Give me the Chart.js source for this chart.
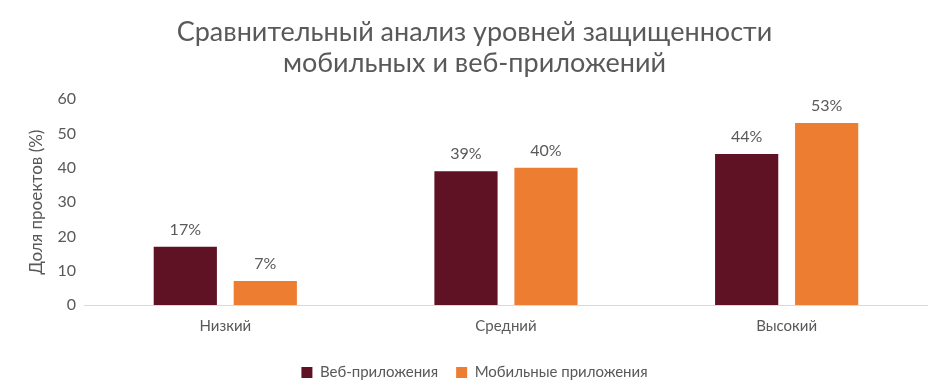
<!DOCTYPE html>
<html>
<head>
<meta charset="utf-8">
<script src="https://cdn.jsdelivr.net/npm/chart.js@4/dist/chart.umd.min.js"></script>
<style>
  html, body { margin: 0; padding: 0; background: #fff; }
  #wrap { width: 941px; height: 392px; position: relative; }
</style>
</head>
<body>
<div id="wrap"><canvas id="chart"></canvas></div>
<script>
const categories = ["Низкий", "Средний", "Высокий"];
const webValues = [17, 39, 44];
const mobileValues = [7, 40, 53];
const seriesNames = ["Веб-приложения", "Мобильные приложения"];
const titleLines = ["Сравнительный анализ уровней защищенности", "мобильных и веб-приложений"];

const FONT = "Lato, 'Open Sans', sans-serif";
const GRAY = "#595959";

// draws "NN%" above each bar
const barLabels = {
  id: "barLabels",
  afterDatasetsDraw(chart) {
    const ctx = chart.ctx;
    ctx.save();
    ctx.font = "16px " + FONT;
    ctx.fillStyle = GRAY;
    ctx.textAlign = "center";
    ctx.textBaseline = "bottom";
    chart.data.datasets.forEach((ds, i) => {
      chart.getDatasetMeta(i).data.forEach((bar, j) => {
        ctx.fillText(ds.data[j] + "%", bar.x, bar.y - 9);
      });
    });
    ctx.restore();
  },
};

new Chart(document.getElementById("chart"), {
  type: "bar",
  data: {
    labels: categories,
    datasets: [
      {
        label: seriesNames[0],
        data: webValues,
        backgroundColor: "#5E1224",
        categoryPercentage: 0.57,
        barPercentage: 0.79,
      },
      {
        label: seriesNames[1],
        data: mobileValues,
        backgroundColor: "#ED7D31",
        categoryPercentage: 0.57,
        barPercentage: 0.79,
      },
    ],
  },
  options: {
    responsive: true,
    maintainAspectRatio: false,
    animation: false,
    layout: { padding: { left: 22, right: 14, top: 11, bottom: 2 } },
    plugins: {
      title: {
        display: true,
        text: titleLines,
        color: GRAY,
        font: { family: FONT, size: 27, weight: "normal", lineHeight: 1.15 },
        padding: { top: 6, bottom: 20 },
      },
      legend: {
        position: "bottom",
        labels: {
          color: GRAY,
          font: { family: FONT, size: 15 },
          boxWidth: 11,
          boxHeight: 11,
          padding: 18,
        },
      },
      tooltip: { enabled: false },
    },
    scales: {
      x: {
        grid: { display: false, drawTicks: false },
        border: { color: "#d9d9d9", width: 1 },
        ticks: { color: GRAY, font: { family: FONT, size: 15 }, padding: 12 },
      },
      y: {
        min: 0,
        max: 60,
        ticks: { stepSize: 10, color: GRAY, font: { family: FONT, size: 16 }, padding: 9 },
        grid: { display: false, drawTicks: false },
        border: { display: false },
        title: {
          display: true,
          text: "Доля проектов (%)",
          color: GRAY,
          font: { family: FONT, size: 17 },
          padding: { bottom: 2 },
        },
      },
    },
  },
  plugins: [barLabels],
});
</script>
</body>
</html>
